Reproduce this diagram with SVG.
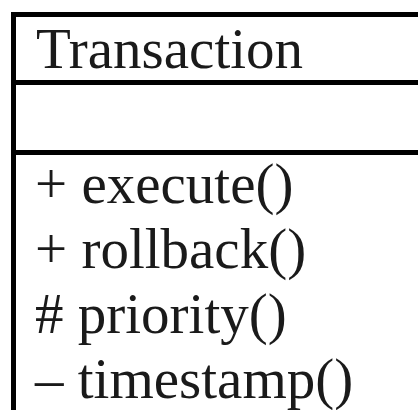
<svg xmlns="http://www.w3.org/2000/svg" width="418" height="410" viewBox="0 0 418 410">
<style>
.t{font-family:"Liberation Serif","Times New Roman",serif;font-size:57px;fill:#1a1a1a}
.b{stroke:#000;stroke-width:5;fill:none}
</style>
<rect width="418" height="410" fill="#fff"/>
<g id="Transaction">
<rect class="b" x="13.5" y="14.5" width="420" height="410"/>
<line class="b" x1="13.5" y1="82.5" x2="430" y2="82.5"/>
<line class="b" x1="13.5" y1="152.5" x2="430" y2="152.5"/>
<text class="t" x="36" y="68">Transaction</text>
<text class="t" x="35" y="203">+ execute()</text>
<text class="t" x="35" y="268">+ rollback()</text>
<text class="t" x="35" y="333"># priority()</text>
<text class="t" x="35" y="398">– timestamp()</text>
</g>
<g id="connectors"/>
</svg>
